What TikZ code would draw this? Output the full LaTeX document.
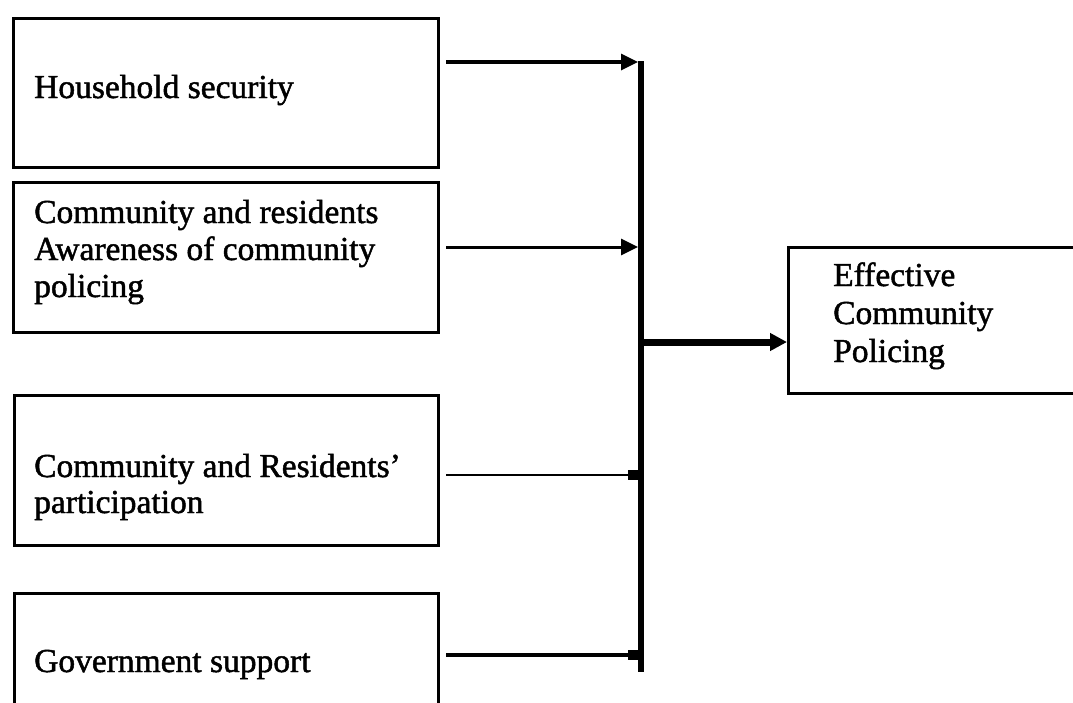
\documentclass[tikz,border=0pt]{standalone}
\usepackage{fontspec}
\setmainfont{Liberation Serif}
\newfontfamily\scanfont{Liberation Serif}[FakeBold=1.4]
\usetikzlibrary{arrows.meta}
\begin{document}
\begin{tikzpicture}[x=1pt,y=-1pt,
  box/.style={draw, line width=3pt, rectangle, anchor=north west, inner sep=0pt},
  txt/.style={anchor=base west, inner sep=0pt, align=left,
              font=\scanfont\fontsize{33.5}{37}\selectfont},
  feed/.style={line width=3.2pt, -{Triangle[length=17pt,width=16pt]}},
  feedsq/.style={line width=2.8pt, -{Rectangle[length=10pt,width=10pt]}},
  mainarrow/.style={line width=7pt, -{Triangle[length=17pt,width=17pt]}}]
\clip (0,0) rectangle (1073,702);
\fill[white] (0,0) rectangle (1073,702);
% boxes
\node[box, minimum width=425pt, minimum height=149pt] (b1) at (12,17) {};
\node[box, minimum width=425pt, minimum height=150pt] (b2) at (12,181) {};
\node[box, minimum width=424pt, minimum height=150pt] (b3) at (13,394) {};
\node[box, minimum width=424pt, minimum height=200pt] (b4) at (13,592) {};
\node[box, line width=2.8pt, minimum width=400pt, minimum height=146pt] (out) at (787,246) {};
% texts (anchored at the baseline of their last line)
\node[txt] (t1) at (34,98) {Household security};
\node[txt] (t2) at (34,297) {Community and residents\\Awareness of community\\policing};
\node[txt, font=\scanfont\fontsize{33.5}{36}\selectfont] (t3) at (34,513) {Community and Residents’\\participation};
\node[txt] (t4) at (34,672) {Government support};
\node[txt, font=\scanfont\fontsize{33.5}{38}\selectfont] (t5) at (833,362) {Effective\\Community\\Policing};
% collecting bar
\node[fill=black, inner sep=0pt, minimum width=5.5pt, minimum height=611pt, anchor=north] (bar) at (641,61) {};
% connectors
\draw[feed] ([xshift=6pt,yshift=-45pt]b1.north east) -- (bar.west |- 0,62);
\draw[feed, line width=3pt] ([xshift=6pt,yshift=-66pt]b2.north east) -- (bar.west |- 0,247);
\draw[feedsq, line width=2.8pt] ([xshift=6pt,yshift=-81pt]b3.north east) -- (bar.west |- 0,475);
\draw[feedsq, line width=4pt] ([xshift=6pt,yshift=-63pt]b4.north east) -- (bar.west |- 0,655);
\draw[mainarrow] (bar.east |- 0,342) -- (out.west |- 0,342);
\end{tikzpicture}
\end{document}
